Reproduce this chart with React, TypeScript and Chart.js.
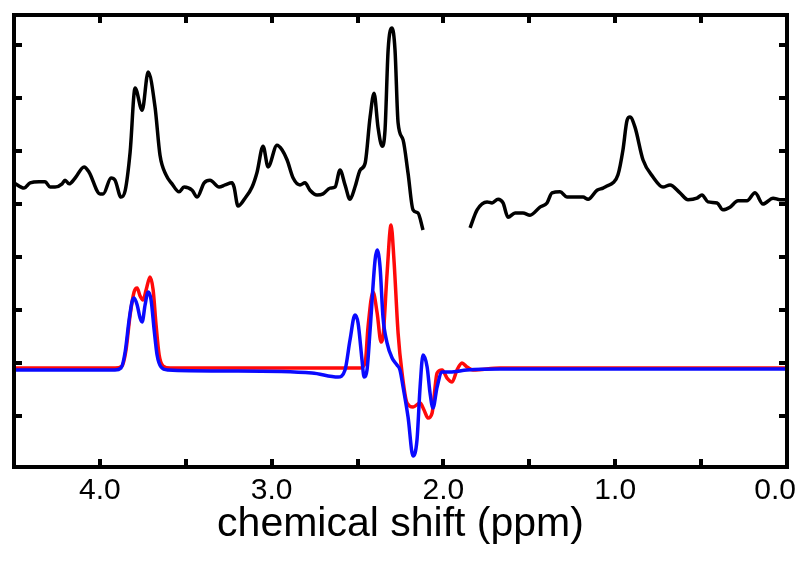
import React, { useEffect, useRef } from "react";
import { Chart, registerables } from "chart.js";

Chart.register(...registerables);

// ---- Data (ppm, intensity in arbitrary units; y ticks at integer units) ----
// Experimental spectrum (black), part before the gap
const blackPpmA = [
  4.5, 4.441, 4.406, 4.354, 4.319, 4.29, 4.261, 4.22, 4.203, 4.179, 4.144, 4.092, 4.063,
  3.999, 3.981, 3.935, 3.912, 3.877, 3.853, 3.824, 3.795, 3.754, 3.719, 3.679, 3.65, 3.615,
  3.58, 3.539, 3.51, 3.463, 3.434, 3.393, 3.359, 3.306, 3.271, 3.231, 3.219, 3.196, 3.155,
  3.114, 3.085, 3.05, 3.021, 2.969, 2.939, 2.91, 2.875, 2.835, 2.806, 2.777, 2.736, 2.701,
  2.66, 2.631, 2.602, 2.573, 2.544, 2.515, 2.485, 2.456, 2.427, 2.404, 2.381, 2.357, 2.34,
  2.322, 2.299, 2.282, 2.264, 2.235, 2.206, 2.177, 2.148, 2.119,
];
const blackIntA = [
  4.4, 4.3, 4.4, 4.42, 4.42, 4.32, 4.32, 4.38, 4.45, 4.38, 4.49, 4.7, 4.6,
  4.19, 4.19, 4.49, 4.45, 4.13, 4.25, 4.98, 6.19, 5.77, 6.49, 5.83, 4.92, 4.55,
  4.38, 4.23, 4.32, 4.26, 4.13, 4.4, 4.45, 4.32, 4.36, 4.4, 4.32, 3.96, 4.11,
  4.32, 4.6, 5.09, 4.7, 5.11, 5.02, 4.83, 4.49, 4.36, 4.4, 4.26, 4.17, 4.19,
  4.3, 4.32, 4.64, 4.36, 4.09, 4.32, 4.64, 4.77, 5.64, 6.09, 5.45, 5.09, 5.4,
  6.91, 7.32, 6.91, 5.53, 5.21, 4.58, 3.89, 3.83, 3.51,
];
// Experimental spectrum (black), part after the gap
const blackPpmB = [
  1.845, 1.804, 1.746, 1.717, 1.682, 1.653, 1.624, 1.583, 1.537, 1.496, 1.438, 1.397, 1.368,
  1.321, 1.281, 1.234, 1.187, 1.158, 1.106, 1.071, 1.048, 1.013, 0.984, 0.955, 0.931, 0.914,
  0.885, 0.838, 0.78, 0.722, 0.681, 0.623, 0.576, 0.524, 0.495, 0.46, 0.407, 0.373, 0.332,
  0.285, 0.233, 0.186, 0.14, 0.081, 0.041, 0.0,
];
const blackIntB = [
  3.55, 3.89, 4.04, 4.02, 4.09, 4.02, 3.75, 3.83, 3.83, 3.79, 3.94, 4.02, 4.21,
  4.23, 4.13, 4.13, 4.13, 4.09, 4.26, 4.3, 4.34, 4.4, 4.55, 5.02, 5.58, 5.64,
  5.45, 4.83, 4.51, 4.32, 4.36, 4.21, 4.08, 4.11, 4.17, 4.04, 4.02, 3.89, 3.94,
  4.06, 4.06, 4.21, 4.0, 4.11, 4.08, 4.08,
];
// Simulation 1 (red)
const redPpm = [
  4.5, 3.912, 3.871, 3.848, 3.824, 3.801, 3.783, 3.766, 3.749, 3.731, 3.708, 3.69, 3.673,
  3.655, 3.632, 3.591, 2.485, 2.456, 2.439, 2.41, 2.386, 2.363, 2.352, 2.328, 2.305, 2.288,
  2.264, 2.241, 2.212, 2.177, 2.136, 2.113, 2.09, 2.066, 2.037, 2.008, 1.979, 1.95, 1.921,
  1.892, 1.863, 1.828, 1.671, 0.0,
];
const redInt = [
  0.906, 0.906, 0.943, 1.245, 1.906, 2.34, 2.415, 2.264, 2.189, 2.377, 2.623, 2.377, 1.717,
  1.151, 0.943, 0.906, 0.906, 1.0, 1.679, 2.34, 1.943, 1.396, 1.491, 2.698, 3.604, 2.943,
  1.566, 0.811, 0.245, 0.17, 0.245, 0.113, -0.038, 0.057, 0.811, 0.868, 0.717, 0.642, 0.868,
  1.0, 0.925, 0.868, 0.906, 0.906,
];
// Simulation 2 (blue)
const bluePpm = [
  4.5, 3.912, 3.877, 3.853, 3.83, 3.813, 3.801, 3.783, 3.766, 3.754, 3.737, 3.719, 3.702,
  3.684, 3.667, 3.644, 3.603, 3.248, 2.765, 2.613, 2.573, 2.544, 2.515, 2.497, 2.474, 2.462,
  2.445, 2.427, 2.398, 2.386, 2.369, 2.352, 2.328, 2.299, 2.27, 2.253, 2.235, 2.206, 2.177,
  2.154, 2.136, 2.119, 2.095, 2.078, 2.061, 2.037, 2.008, 1.962, 1.863, 1.671, 0.0,
];
const blueInt = [
  0.868, 0.868, 0.906, 1.208, 1.811, 2.151, 2.226, 2.094, 1.849, 1.774, 2.094, 2.34, 2.189,
  1.623, 1.151, 0.925, 0.868, 0.849, 0.811, 0.736, 0.868, 1.434, 1.906, 1.755, 1.057, 0.736,
  0.868, 1.623, 2.943, 3.132, 2.811, 1.868, 1.377, 1.094, 0.962, 0.868, 0.547, -0.019, -0.755,
  -0.453, 0.547, 1.151, 0.925, 0.434, 0.151, 0.547, 0.83, 0.83, 0.868, 0.887, 0.887,
];

// Axis ticks
const xTickValues = [4.0, 3.5, 3.0, 2.5, 2.0, 1.5, 1.0, 0.5];
const xLabelValues = [4, 3, 2, 1, 0];
const xTickLabels = ["4.0", "3.0", "2.0", "1.0", "0.0"];
const yTickValues = [0, 1, 2, 3, 4, 5, 6, 7];
const xAxisTitle = "chemical shift (ppm)";

const X_MIN = 0;
const X_MAX = 4.5;
const Y_MIN = -0.962;
const Y_MAX = 7.566;

function pairs(xs: number[], ys: number[]) {
  return xs.map((x, i) => ({ x, y: ys[i] }));
}

const framePlugin = {
  id: "nmrFrame",
  afterDraw(chart: any) {
    const { ctx, chartArea } = chart;
    const { left, right, top, bottom } = chartArea;
    const xs = chart.scales.x;
    const ys = chart.scales.y;
    ctx.save();
    ctx.strokeStyle = "#000";
    ctx.fillStyle = "#000";
    ctx.lineWidth = 4;
    ctx.strokeRect(left, top, right - left, bottom - top);
    // inward ticks
    ctx.lineWidth = 4;
    const tl = 8;
    ctx.beginPath();
    xTickValues.forEach((v) => {
      const px = Math.round(xs.getPixelForValue(v));
      ctx.moveTo(px, bottom);
      ctx.lineTo(px, bottom - tl);
      ctx.moveTo(px, top);
      ctx.lineTo(px, top + tl);
    });
    yTickValues.forEach((v) => {
      const py = Math.round(ys.getPixelForValue(v));
      ctx.moveTo(left, py);
      ctx.lineTo(left + tl, py);
      ctx.moveTo(right, py);
      ctx.lineTo(right - tl, py);
    });
    ctx.stroke();
    // tick labels
    ctx.font = "30px 'Liberation Sans', Arial, sans-serif";
    ctx.textAlign = "center";
    ctx.textBaseline = "alphabetic";
    const W = chart.width;
    xLabelValues.forEach((v, i) => {
      const t = xTickLabels[i];
      const w = ctx.measureText(t).width;
      let px = xs.getPixelForValue(v);
      if (px + w / 2 > W - 4) px = W - 4 - w / 2;
      if (px - w / 2 < 2) px = 2 + w / 2;
      ctx.fillText(t, px, bottom + 32);
    });
    // axis title
    ctx.font = "41px 'Liberation Sans', Arial, sans-serif";
    ctx.fillText(xAxisTitle, (left + right) / 2, bottom + 69);
    ctx.restore();
  },
};

export default function App() {
  const canvasRef = useRef<HTMLCanvasElement | null>(null);

  useEffect(() => {
    document.body.style.margin = "0";
    const canvas = canvasRef.current;
    if (!canvas) return;
    const blackData: any[] = [
      ...pairs(blackPpmA, blackIntA),
      { x: 2.0, y: null },
      ...pairs(blackPpmB, blackIntB),
    ];
    const chart = new Chart(canvas, {
      type: "line",
      data: {
        datasets: [
          {
            label: "sim2",
            data: pairs(bluePpm, blueInt),
            borderColor: "#0a0aff",
            borderWidth: 3.5,
            pointRadius: 0,
            cubicInterpolationMode: "monotone",
            fill: false,
          },
          {
            label: "sim1",
            data: pairs(redPpm, redInt),
            borderColor: "#ff0a0a",
            borderWidth: 3.5,
            pointRadius: 0,
            cubicInterpolationMode: "monotone",
            fill: false,
          },
          {
            label: "exp",
            data: blackData,
            borderColor: "#000000",
            borderWidth: 3.5,
            pointRadius: 0,
            cubicInterpolationMode: "monotone",
            spanGaps: false,
            fill: false,
          },
        ],
      },
      options: {
        responsive: false,
        animation: false,
        devicePixelRatio: 1,
        layout: { padding: { left: 14, right: 13, top: 15, bottom: 94 } },
        plugins: {
          legend: { display: false },
          tooltip: { enabled: false },
          title: { display: false },
        },
        scales: {
          x: {
            type: "linear",
            min: X_MIN,
            max: X_MAX,
            reverse: true,
            display: false,
          },
          y: {
            type: "linear",
            min: Y_MIN,
            max: Y_MAX,
            display: false,
          },
        },
      } as any,
      plugins: [framePlugin],
    });
    return () => chart.destroy();
  }, []);

  return (
    <div style={{ position: "absolute", left: 0, top: 0, width: 800, height: 561, background: "#fff" }}>
      <canvas ref={canvasRef} width={800} height={561} />
    </div>
  );
}
